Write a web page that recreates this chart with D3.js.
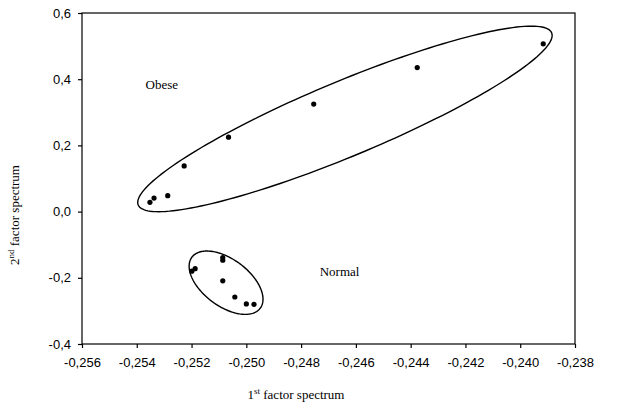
<!DOCTYPE html>
<html><head><meta charset="utf-8">
<script src="https://cdn.jsdelivr.net/npm/d3@7"></script>
<style>body{margin:0;background:#fff}</style>
</head><body>
<script>
const obeseX = [-0.25352, -0.25337, -0.25287, -0.25227, -0.25065, -0.24754, -0.24376, -0.23916];
const obeseY = [0.028, 0.041, 0.048, 0.138, 0.225, 0.325, 0.435, 0.507];
const normalX = [-0.25199, -0.25187, -0.25086, -0.25086, -0.25086, -0.25042, -0.25000, -0.24972];
const normalY = [-0.180, -0.1725, -0.139, -0.147, -0.209, -0.258, -0.279, -0.280];
const xTicks = [-0.256, -0.254, -0.252, -0.250, -0.248, -0.246, -0.244, -0.242, -0.240, -0.238];
const yTicks = [-0.4, -0.2, 0.0, 0.2, 0.4, 0.6];
// ellipses: center and two conjugate semi-axis vectors (data units)
const obeseEllipse = {cx: -0.2464, cy: 0.280, ax: 0.007547, ay: 0.2601, bx: 0.000526, by: -0.1045};
const normalEllipse = {cx: -0.25074, cy: -0.2148, ax: 0.001248, ay: -0.0770, bx: -0.000511, by: -0.0568};
const groupLabels = [{text: "Obese", x: -0.25368, y: 0.37}, {text: "Normal", x: -0.24732, y: -0.195}];

const W = 634, H = 407;
const m = {l: 82, r: 59, t: 13, b: 63};
const svg = d3.select("body").append("svg").attr("width", W).attr("height", H);
const x = d3.scaleLinear().domain([-0.256, -0.238]).range([m.l, W - m.r]);
const y = d3.scaleLinear().domain([-0.4, 0.6]).range([H - m.b, m.t]);
const fmt = v => d3.format(".3f")(v).replace(".", ",").replace("−", "-");
const fmtY = v => d3.format(".1f")(v).replace(".", ",").replace("−", "-");

const gx = svg.append("g").attr("transform", `translate(0,${H - m.b})`)
  .call(d3.axisBottom(x).tickValues(xTicks).tickFormat(fmt).tickSize(4).tickPadding(10));
const gy = svg.append("g").attr("transform", `translate(${m.l},0)`)
  .call(d3.axisLeft(y).tickValues(yTicks).tickFormat(fmtY).tickSize(4).tickPadding(7));
[gx, gy].forEach(g => {
  g.select(".domain").remove();
  g.selectAll("line").attr("stroke", "#000").attr("stroke-width", 1.2);
  g.selectAll("text").attr("font-family", "Liberation Sans, Arial, sans-serif").attr("font-size", 13).attr("fill", "#000");
});
svg.append("rect").attr("x", x(-0.256)).attr("y", y(0.6))
  .attr("width", x(-0.238) - x(-0.256)).attr("height", y(-0.4) - y(0.6))
  .attr("fill", "none").attr("stroke", "#000").attr("stroke-width", 1.2);

function ellipsePath(e) {
  const pts = d3.range(0, 361, 2).map(d => {
    const t = d * Math.PI / 180;
    return [x(e.cx + Math.cos(t) * e.ax + Math.sin(t) * e.bx), y(e.cy + Math.cos(t) * e.ay + Math.sin(t) * e.by)];
  });
  return d3.line().curve(d3.curveLinearClosed)(pts);
}
[obeseEllipse, normalEllipse].forEach(e => {
  svg.append("path").attr("d", ellipsePath(e)).attr("fill", "none").attr("stroke", "#000").attr("stroke-width", 1.4);
});

const pts = obeseX.map((v, i) => [v, obeseY[i]]).concat(normalX.map((v, i) => [v, normalY[i]]));
svg.append("g").selectAll("circle").data(pts).join("circle")
  .attr("cx", d => x(d[0])).attr("cy", d => y(d[1])).attr("r", 2.6).attr("fill", "#000");

svg.append("g").selectAll("text").data(groupLabels).join("text")
  .attr("x", d => x(d.x)).attr("y", d => y(d.y))
  .attr("font-family", "Liberation Serif, Times New Roman, serif").attr("font-size", 13)
  .text(d => d.text);

const xl = svg.append("text").attr("x", 296).attr("y", 399).attr("text-anchor", "middle")
  .attr("font-family", "Liberation Serif, Times New Roman, serif").attr("font-size", 13);
xl.append("tspan").text("1");
xl.append("tspan").attr("font-size", 9).attr("dy", -5).text("st");
xl.append("tspan").attr("dy", 5).text(" factor spectrum");

const yl = svg.append("text").attr("transform", `translate(19,215) rotate(-90)`).attr("text-anchor", "middle")
  .attr("font-family", "Liberation Serif, Times New Roman, serif").attr("font-size", 13);
yl.append("tspan").text("2");
yl.append("tspan").attr("font-size", 9).attr("dy", -5).text("nd");
yl.append("tspan").attr("dy", 5).text(" factor spectrum");
</script>
</body></html>
